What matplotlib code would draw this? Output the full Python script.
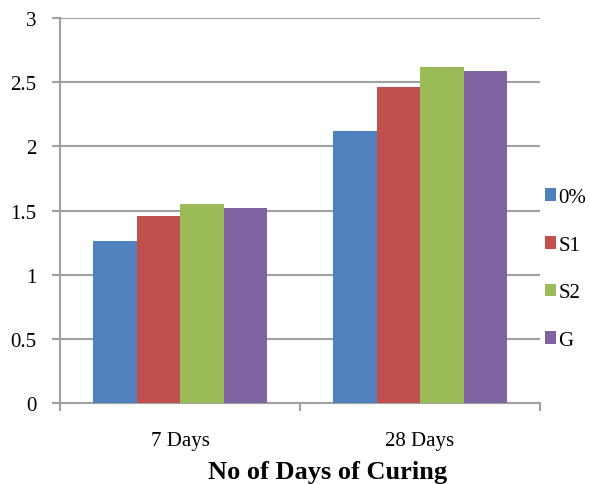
import matplotlib
matplotlib.use("Agg")
import matplotlib.pyplot as plt
import numpy as np

categories = ["7 Days", "28 Days"]
series_names = ["0%", "S1", "S2", "G"]
values = {
    "0%": [1.26, 2.12],
    "S1": [1.46, 2.46],
    "S2": [1.55, 2.62],
    "G": [1.52, 2.59],
}
colors = ["#4F81BD", "#C0504D", "#9BBB59", "#8064A2"]
yticks = [0, 0.5, 1, 1.5, 2, 2.5, 3]
ytick_labels = ["0", "0.5", "1", "1.5", "2", "2.5", "3"]

plt.rcParams['font.family'] = ['Liberation Serif', 'DejaVu Serif']

fig = plt.figure(figsize=(5.9, 4.85), dpi=100)
ax = fig.add_axes([60/590, 1-404/485, 480/590, 385/485])

x = np.arange(len(categories))
bw = 0.725 / 4
for i, name in enumerate(series_names):
    ax.bar(x - 0.3625 + bw*(i+0.5), values[name], width=bw, color=colors[i],
           label=name, zorder=3, edgecolor='none')

ax.set_xlim(-0.5, 1.5)
ax.set_ylim(0, 3)
ax.set_yticks(yticks)
ax.set_yticklabels(ytick_labels)
ax.set_xticks([-0.5, 0.5, 1.5], minor=False)
ax.set_xticklabels([])
ax.set_xticks(x, minor=True)
ax.set_xticklabels(categories, minor=True)
ax.tick_params(axis='x', which='minor', length=0, pad=20, labelsize=15)
ax.tick_params(axis='x', which='major', length=6, color='#A0A0A0', width=1.5)
ax.tick_params(axis='y', length=6, color='#A0A0A0', width=1.5, labelsize=15, pad=11)
ax.yaxis.grid(True, color='#A0A0A0', linewidth=1.5, zorder=0)
ax.set_axisbelow(True)
for s in ['top', 'right']:
    ax.spines[s].set_visible(False)
for s in ['left', 'bottom']:
    ax.spines[s].set_color('#A0A0A0')
    ax.spines[s].set_linewidth(1.5)

leg = fig.legend(loc='center left', bbox_to_anchor=(545/590, 1-270/485), frameon=False,
                 fontsize=15, handlelength=0.55, handleheight=0.55, handletextpad=0.1,
                 labelspacing=1.38, borderaxespad=0, borderpad=0)

fig.text(328/590, 1-473/485, "No of Days of Curing", ha='center', va='center',
         fontsize=19, fontweight='bold')

fig.savefig("out.png", dpi=100)
